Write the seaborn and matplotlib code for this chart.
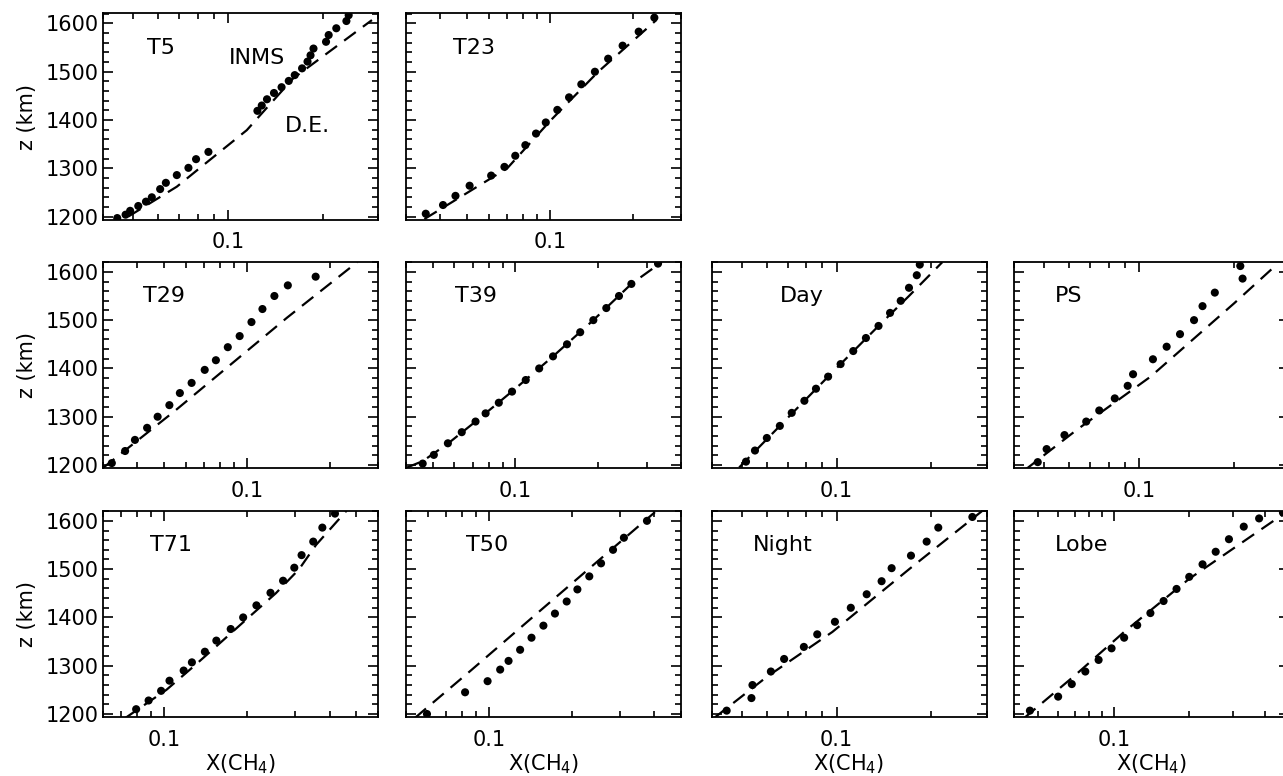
import numpy as np
import pandas as pd
import matplotlib
matplotlib.use("Agg")
import matplotlib.pyplot as plt
import seaborn as sns
from matplotlib.ticker import FixedLocator, LogLocator, NullFormatter, FormatStrFormatter, MultipleLocator

# Perfis de CH4: INMS (pontos) e equilibrio difusivo D.E. (tracejado)
t5_inms_x = [0.0444, 0.0472, 0.0488, 0.0518, 0.0548, 0.0572, 0.0608, 0.0634, 0.0687, 0.0748, 0.0791, 0.0866,
             0.124, 0.128, 0.133, 0.140, 0.148, 0.156, 0.163, 0.172, 0.179, 0.183, 0.187, 0.205, 0.209, 0.221, 0.238, 0.242]
t5_inms_z = [1197, 1204, 1212, 1222, 1231, 1240, 1257, 1270, 1286, 1301, 1319, 1334,
             1419, 1430, 1443, 1456, 1468, 1481, 1493, 1507, 1521, 1534, 1548, 1562, 1576, 1590, 1605, 1617]
t5_de_x = [0.0481, 0.0687, 0.0847, 0.1147, 0.161, 0.287]
t5_de_z = [1200, 1262, 1310, 1379, 1486, 1607]

t23_inms_x = [0.0354, 0.0409, 0.0454, 0.0511, 0.0612, 0.0684, 0.0749, 0.0815, 0.0891, 0.0967, 0.1065,
              0.1175, 0.1302, 0.1459, 0.163, 0.184, 0.2105, 0.240]
t23_inms_z = [1206, 1224, 1243, 1264, 1285, 1303, 1326, 1348, 1372, 1395, 1421, 1447, 1474, 1500, 1527, 1554, 1583, 1612]
t23_de_x = [0.035, 0.070, 0.101, 0.150, 0.244]
t23_de_z = [1195, 1300, 1400, 1500, 1607]

t29_inms_x = [0.0323, 0.0361, 0.0392, 0.0434, 0.0474, 0.0523, 0.0571, 0.063, 0.0703, 0.0772, 0.0853, 0.0942,
              0.104, 0.114, 0.126, 0.141, 0.178]
t29_inms_z = [1204, 1229, 1252, 1277, 1300, 1324, 1349, 1370, 1397, 1417, 1444, 1467, 1496, 1523, 1550, 1572, 1590]
t29_de_x = [0.030, 0.055, 0.084, 0.140, 0.252]
t29_de_z = [1194, 1313, 1400, 1505, 1620]

t39_inms_x = [0.046, 0.0505, 0.0568, 0.0638, 0.0716, 0.0779, 0.087, 0.0972, 0.109, 0.122, 0.137, 0.154,
              0.172, 0.192, 0.214, 0.238, 0.264, 0.33]
t39_inms_z = [1203, 1221, 1245, 1268, 1290, 1307, 1329, 1352, 1376, 1400, 1425, 1450, 1475, 1500, 1525, 1550, 1575, 1617]
t39_de_x = [0.040, 0.046, 0.057, 0.0716, 0.097, 0.137, 0.192, 0.264, 0.34]
t39_de_z = [1194, 1208, 1245, 1290, 1352, 1425, 1500, 1575, 1620]

day_inms_x = [0.0515, 0.055, 0.060, 0.066, 0.072, 0.079, 0.086, 0.094, 0.103, 0.113, 0.124, 0.136, 0.148, 0.160, 0.170, 0.180, 0.184]
day_inms_z = [1207, 1230, 1256, 1281, 1308, 1333, 1358, 1383, 1409, 1436, 1463, 1488, 1515, 1540, 1567, 1593, 1615]
day_de_x = [0.049, 0.066, 0.094, 0.136, 0.170, 0.217]
day_de_z = [1195, 1281, 1383, 1488, 1550, 1620]

ps_inms_x = [0.0476, 0.0508, 0.0579, 0.0679, 0.0747, 0.0837, 0.092, 0.0957, 0.1107, 0.1224, 0.135, 0.1496,
             0.1592, 0.1742, 0.2135, 0.210]
ps_inms_z = [1206, 1233, 1262, 1290, 1313, 1338, 1364, 1388, 1419, 1445, 1471, 1500, 1529, 1557, 1586, 1612]
ps_de_x = [0.0434, 0.0634, 0.1088, 0.2008, 0.273]
ps_de_z = [1190, 1273, 1383, 1535, 1614]

t71_inms_x = [0.0792, 0.0879, 0.0976, 0.1047, 0.1179, 0.1263, 0.1408, 0.155, 0.1748, 0.194, 0.2168, 0.2439,
              0.271, 0.2977, 0.3164, 0.3489, 0.3765, 0.4184]
t71_inms_z = [1210, 1228, 1248, 1269, 1290, 1307, 1329, 1352, 1376, 1400, 1425, 1451, 1476, 1503, 1529, 1557, 1586, 1615]
t71_de_x = [0.072, 0.102, 0.129, 0.162, 0.203, 0.255, 0.31, 0.357, 0.461]
t71_de_z = [1191, 1250, 1300, 1350, 1400, 1450, 1500, 1550, 1621]

t50_inms_x = [0.0596, 0.082, 0.099, 0.110, 0.118, 0.130, 0.143, 0.158, 0.174, 0.192, 0.210, 0.232, 0.256, 0.283, 0.310, 0.376]
t50_inms_z = [1200, 1245, 1268, 1292, 1310, 1333, 1358, 1383, 1408, 1433, 1458, 1485, 1512, 1540, 1565, 1600]
t50_de_x = [0.0539, 0.086, 0.144, 0.245, 0.402]
t50_de_z = [1192, 1290, 1400, 1513, 1618]

night_inms_x = [0.0447, 0.0536, 0.054, 0.0618, 0.0681, 0.0787, 0.0868, 0.0988, 0.111, 0.1247, 0.1391, 0.1497,
                0.1725, 0.1935, 0.2107, 0.2705]
night_inms_z = [1207, 1233, 1260, 1288, 1314, 1339, 1365, 1391, 1420, 1448, 1475, 1502, 1528, 1557, 1586, 1608]
night_de_x = [0.041, 0.060, 0.097, 0.171, 0.29]
night_de_z = [1193, 1277, 1370, 1501, 1620]

lobe_inms_x = [0.0463, 0.060, 0.068, 0.077, 0.087, 0.098, 0.110, 0.124, 0.140, 0.158, 0.178, 0.200, 0.226, 0.255, 0.288, 0.330, 0.380, 0.473]
lobe_inms_z = [1207, 1236, 1262, 1288, 1312, 1336, 1358, 1384, 1409, 1434, 1459, 1484, 1510, 1536, 1562, 1588, 1605, 1617]
lobe_de_x = [0.044, 0.070, 0.110, 0.200, 0.500]
lobe_de_z = [1192, 1280, 1370, 1480, 1622]

panel_names = ["T5", "T23", "T29", "T39", "Day", "PS", "T71", "T50", "Night", "Lobe"]
panel_xlims = [(0.04, 0.3), (0.03, 0.3), (0.03, 0.3), (0.04, 0.4), (0.04, 0.3),
               (0.04, 0.3), (0.06, 0.6), (0.05, 0.5), (0.04, 0.3), (0.04, 0.5)]
panel_cells = [(0, 0), (0, 1), (1, 0), (1, 1), (1, 2), (1, 3), (2, 0), (2, 1), (2, 2), (2, 3)]
inms_x = [t5_inms_x, t23_inms_x, t29_inms_x, t39_inms_x, day_inms_x, ps_inms_x, t71_inms_x, t50_inms_x, night_inms_x, lobe_inms_x]
inms_z = [t5_inms_z, t23_inms_z, t29_inms_z, t39_inms_z, day_inms_z, ps_inms_z, t71_inms_z, t50_inms_z, night_inms_z, lobe_inms_z]
de_x = [t5_de_x, t23_de_x, t29_de_x, t39_de_x, day_de_x, ps_de_x, t71_de_x, t50_de_x, night_de_x, lobe_de_x]
de_z = [t5_de_z, t23_de_z, t29_de_z, t39_de_z, day_de_z, ps_de_z, t71_de_z, t50_de_z, night_de_z, lobe_de_z]
label_x = [0.159, 0.171, 0.145, 0.178, 0.249, 0.149, 0.171, 0.218, 0.151, 0.149]

sns.set_style("ticks")
plt.rcParams['font.family'] = ['DejaVu Sans']
plt.rcParams.update({"text.color": "black", "axes.labelcolor": "black", "axes.edgecolor": "black",
                     "xtick.color": "black", "ytick.color": "black"})

W, H = 1283, 776
fig = plt.figure(figsize=(W / 100, H / 100), dpi=100)
col_left = [103, 406, 711.5, 1014]
row_top = [13.3, 261.7, 510.7]
pw, ph = 275, 206.7

for i, nome in enumerate(panel_names):
    r, c = panel_cells[i]
    ax = fig.add_axes([col_left[c] / W, 1 - (row_top[r] + ph) / H, pw / W, ph / H])
    df_pts = pd.DataFrame({"x": inms_x[i], "z": inms_z[i]})
    df_de = pd.DataFrame({"x": de_x[i], "z": de_z[i]})
    sns.lineplot(data=df_de, x="x", y="z", ax=ax, sort=False, estimator=None, color="k",
                 lw=1.6, linestyle=(0, (6.5, 4)))
    sns.scatterplot(data=df_pts, x="x", y="z", ax=ax, color="k", s=34, edgecolor="none", zorder=3)
    ax.set_xscale("log")
    ax.set_xlim(*panel_xlims[i])
    ax.set_ylim(1193, 1621)
    ax.xaxis.set_major_locator(FixedLocator([0.1]))
    ax.xaxis.set_major_formatter(FormatStrFormatter("%g"))
    ax.xaxis.set_minor_locator(LogLocator(base=10, subs=np.arange(2, 10)))
    ax.xaxis.set_minor_formatter(NullFormatter())
    ax.yaxis.set_major_locator(MultipleLocator(100))
    ax.yaxis.set_minor_locator(MultipleLocator(20))
    ax.tick_params(which="both", direction="in", top=True, right=True, labelsize=15, width=1.2)
    ax.tick_params(axis="y", which="major", length=7, pad=3)
    ax.tick_params(axis="x", which="major", length=7, pad=9)
    ax.tick_params(which="minor", length=4)
    for s in ax.spines.values():
        s.set_linewidth(1.3)
    if c == 0:
        ax.set_ylabel("z (km)", fontsize=15, labelpad=6)
    else:
        ax.set_ylabel("")
        ax.set_yticklabels([])
    if r == 2:
        ax.set_xlabel("X(CH$_4$)", fontsize=15, labelpad=2)
    else:
        ax.set_xlabel("")
    ax.text(label_x[i], 0.832, nome, transform=ax.transAxes, fontsize=16, ha="left", va="center")
    if nome == "T5":
        ax.text(0.459, 0.786, "INMS", transform=ax.transAxes, fontsize=16, ha="left", va="center")
        ax.text(0.662, 0.457, "D.E.", transform=ax.transAxes, fontsize=16, ha="left", va="center")

fig.savefig("out.png", dpi=100)
